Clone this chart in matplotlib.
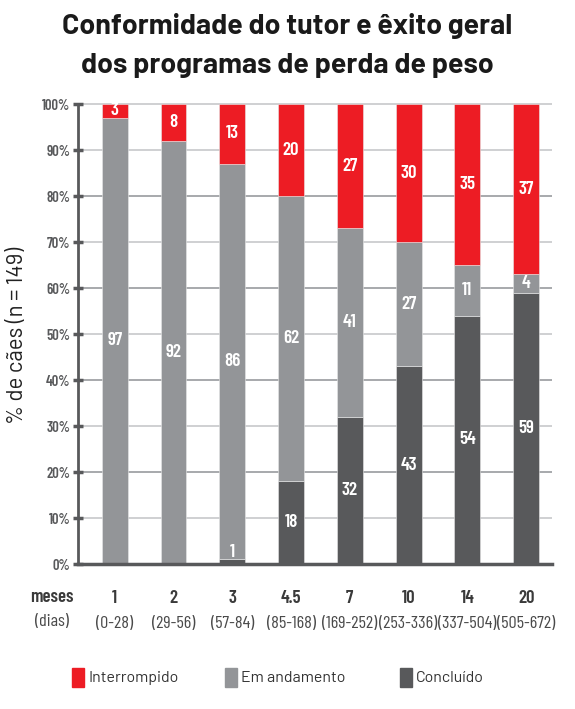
import matplotlib
matplotlib.use('Agg')
import matplotlib.pyplot as plt
from matplotlib.patches import Rectangle
import numpy as np

meses = ['1', '2', '3', '4.5', '7', '10', '14', '20']
dias = ['(0-28)', '(29-56)', '(57-84)', '(85-168)', '(169-252)',
        '(253-336)', '(337-504)', '(505-672)']
concluido = [0, 0, 1, 18, 32, 43, 54, 59]
andamento = [97, 92, 86, 62, 41, 27, 11, 4]
interrompido = [3, 8, 13, 20, 27, 30, 35, 37]
yticks = [0, 10, 20, 30, 40, 50, 60, 70, 80, 90, 100]

RED = '#ed1c24'
GREY = '#939598'
DARK = '#58595b'
COND = ['Barlow Condensed', 'Roboto Condensed', 'DejaVu Sans']
BASE = ['Barlow', 'Liberation Sans', 'DejaVu Sans']

plt.rcParams['font.family'] = BASE

fig = plt.figure(figsize=(5.75, 7.09), dpi=100)
ax = fig.add_axes([0.1357, 0.2045, 0.8243, 0.6553])

x = np.arange(len(meses))
w = 0.44
series = [(concluido, DARK), (andamento, GREY), (interrompido, RED)]
bottom = np.zeros(len(meses))

# gridlines: darker on multiples of 20
for t in yticks[1:]:
    col = '#a7a9ac' if t % 20 == 0 and t < 100 else '#cfd0d2'
    ax.axhline(t, color=col, lw=1.4, zorder=0)

for vals, col in series:
    vals = np.array(vals, dtype=float)
    ax.bar(x, vals, w, bottom=bottom, color=col, edgecolor='#e8e8e8',
           linewidth=0.4, zorder=2)
    for xi, b, v in zip(x, bottom, vals):
        if v <= 0:
            continue
        yc = b + v / 2
        if v < 3:
            yc = b + v + 1.5
        ax.text(xi, yc, '%d' % v, ha='center', va='center', color='white',
                fontsize=13.5, fontweight='semibold', family=COND, zorder=3)
    bottom += vals

ax.set_xlim(-0.625, 7.44)
ax.set_ylim(0, 101)
ax.set_yticks(yticks)
ax.set_yticklabels(['%d%%' % t for t in yticks], family=COND,
                   fontweight='semibold', fontsize=10.5, color='#58595b')
ax.tick_params(axis='y', direction='inout', length=7, width=2.5,
               color=DARK, pad=2)
ax.set_xticks([])
for s in ['top', 'right']:
    ax.spines[s].set_visible(False)
ax.spines['left'].set_color(DARK)
ax.spines['left'].set_linewidth(2)
ax.spines['left'].set_bounds(0, 100)
ax.spines['bottom'].set_color(DARK)
ax.spines['bottom'].set_linewidth(2.5)
ax.spines['bottom'].set_zorder(4)

# x category labels
trans = ax.get_xaxis_transform()
for xi, m, d in zip(x, meses, dias):
    ax.text(xi, -0.075, m, transform=trans, ha='center', va='center',
            fontsize=13.5, fontweight='semibold', family=COND, color='#3a3a3a')
    ax.text(xi, -0.128, d, transform=trans, ha='center', va='center',
            fontsize=13, family=COND, color='#4a4a4a')
fig.text(52 / 575, 1 - 598 / 709, 'meses', ha='center', va='center',
         fontsize=13.5, fontweight='semibold', family=COND, color='#3a3a3a')
fig.text(52 / 575, 1 - 622 / 709, '(dias)', ha='center', va='center',
         fontsize=13, family=COND, color='#4a4a4a')

fig.text(18 / 575, 1 - 335 / 709, '% de cães (n = 149)', rotation=90,
         ha='center', va='center', fontsize=16, fontweight='normal',
         color='#222222')

fig.text(0.5, 1 - 26 / 709, 'Conformidade do tutor e êxito geral',
         ha='center', va='center', fontsize=20.5, fontweight='bold',
         color='#1a1a1a')
fig.text(0.5, 1 - 65 / 709, 'dos programas de perda de peso',
         ha='center', va='center', fontsize=20.5, fontweight='bold',
         color='#1a1a1a')

# legend
leg = [('Interrompido', RED, 72), ('Em andamento', GREY, 225),
       ('Concluído', DARK, 400)]
for name, col, px in leg:
    fig.patches.append(Rectangle((px / 575, 1 - 687 / 709), 12 / 575,
                                 19 / 709, transform=fig.transFigure,
                                 color=col))
    fig.text((px + 16) / 575, 1 - 678 / 709, name, ha='left', va='center',
             fontsize=11.5, color='#333333')

fig.savefig('out.png', dpi=100)
